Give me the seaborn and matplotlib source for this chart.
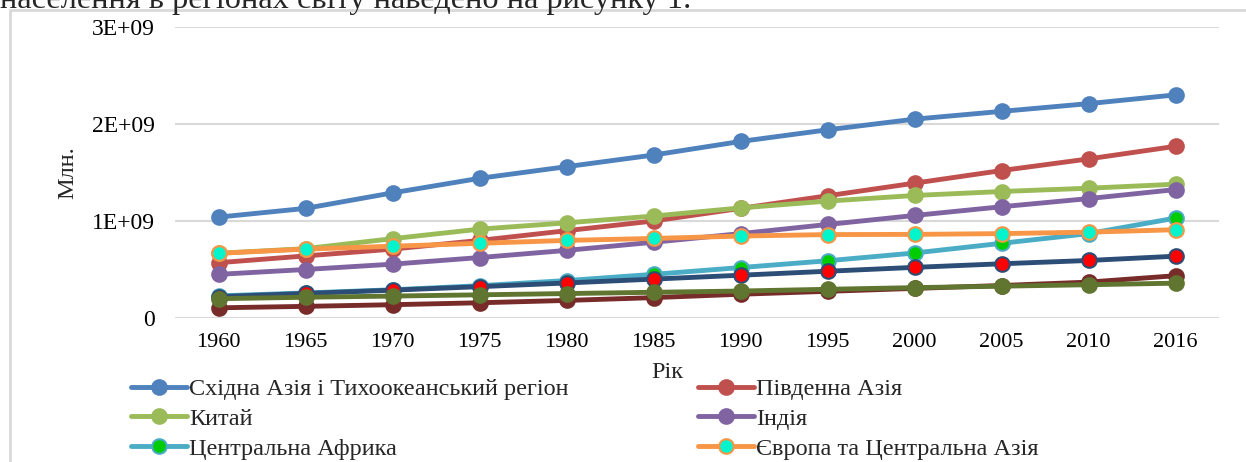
import matplotlib
matplotlib.use("Agg")
import matplotlib.pyplot as plt
import matplotlib.patches as patches
import seaborn as sns
import pandas as pd

years = ["1960", "1965", "1970", "1975", "1980", "1985", "1990", "1995", "2000", "2005", "2010", "2016"]

east_asia = [1.04e9, 1.13e9, 1.29e9, 1.44e9, 1.56e9, 1.68e9, 1.82e9, 1.94e9, 2.05e9, 2.13e9, 2.21e9, 2.30e9]
south_asia = [0.57e9, 0.64e9, 0.71e9, 0.80e9, 0.90e9, 1.00e9, 1.13e9, 1.26e9, 1.39e9, 1.52e9, 1.64e9, 1.77e9]
china = [0.667e9, 0.715e9, 0.818e9, 0.916e9, 0.981e9, 1.051e9, 1.135e9, 1.205e9, 1.263e9, 1.304e9, 1.338e9, 1.379e9]
india = [0.45e9, 0.50e9, 0.555e9, 0.623e9, 0.697e9, 0.781e9, 0.870e9, 0.964e9, 1.057e9, 1.147e9, 1.231e9, 1.324e9]
central_africa = [0.228e9, 0.258e9, 0.291e9, 0.333e9, 0.386e9, 0.45e9, 0.52e9, 0.59e9, 0.67e9, 0.77e9, 0.87e9, 1.03e9]
europe = [0.667e9, 0.71e9, 0.74e9, 0.77e9, 0.80e9, 0.82e9, 0.845e9, 0.86e9, 0.862e9, 0.87e9, 0.885e9, 0.91e9]
latin_america = [0.22e9, 0.253e9, 0.287e9, 0.323e9, 0.361e9, 0.401e9, 0.441e9, 0.482e9, 0.522e9, 0.559e9, 0.593e9, 0.637e9]
mena = [0.105e9, 0.12e9, 0.137e9, 0.157e9, 0.181e9, 0.21e9, 0.245e9, 0.275e9, 0.305e9, 0.335e9, 0.37e9, 0.436e9]
north_america = [0.199e9, 0.214e9, 0.226e9, 0.239e9, 0.252e9, 0.265e9, 0.278e9, 0.296e9, 0.313e9, 0.328e9, 0.343e9, 0.359e9]

# name, values, line colour, marker face, marker edge, show in legend
series = [
    ("Східна Азія і Тихоокеанський регіон", east_asia, "#4F81BD", "#4F81BD", "#4F81BD", True),
    ("Південна Азія", south_asia, "#C0504D", "#C0504D", "#C0504D", True),
    ("Китай", china, "#9BBB59", "#9BBB59", "#9BBB59", True),
    ("Індія", india, "#8064A2", "#8064A2", "#8064A2", True),
    ("Центральна Африка", central_africa, "#4BACC6", "#00CC00", "#4BACC6", True),
    ("Європа та Центральна Азія", europe, "#F79646", "#00F5CC", "#F79646", True),
    ("Латинська Америка", latin_america, "#2C4D75", "#FF0000", "#2C4D75", False),
    ("Близький Схід", mena, "#772C2A", "#772C2A", "#772C2A", False),
    ("Північна Америка", north_america, "#5F7530", "#5F7530", "#5F7530", False),
]

sns.set_style("white")
plt.rcParams["font.family"] = ["Liberation Serif", "DejaVu Serif"]

fig = plt.figure(figsize=(12.46, 4.62), dpi=100)
ax = fig.add_axes([175 / 1246, 1 - 318 / 462, 1044 / 1246, 291 / 462])

# outer chart frame (cut by the page edge, as in the source)
fig.patches.append(patches.Rectangle((10 / 1246, -0.1), 1.2, 1.1 - 10 / 462,
                                     transform=fig.transFigure, fill=False,
                                     edgecolor="#D9D9D9", linewidth=2, zorder=0))
fig.text(0.0, 1 - 8 / 462, "населення в регіонах світу наведено на рисунку 1.",
         fontsize=23.3, va="baseline", ha="left")

for name, vals, color, face, edge, show in series:
    df = pd.DataFrame({"year": years, "value": vals})
    sns.lineplot(data=df, x="year", y="value", ax=ax, sort=False, color=color,
                 linewidth=3.5, marker="o", markersize=10.5, markerfacecolor=face,
                 markeredgecolor=edge, markeredgewidth=1.5,
                 label=name if show else "_nolegend_", legend=False)

ax.set_xlim(-0.5, len(years) - 0.5)
ax.set_ylim(0, 3e9)
ax.set_yticks([0, 1e9, 2e9, 3e9])
ax.set_yticklabels(["0", "1E+09", "2E+09", "3E+09"])
ax.yaxis.grid(True, color="#D9D9D9", linewidth=1.5)
ax.set_axisbelow(True)
for s in ax.spines.values():
    s.set_visible(False)
ax.tick_params(axis="both", length=0, colors="black")
ax.tick_params(axis="y", pad=14.4, labelsize=17)
ax.tick_params(axis="x", pad=11, labelsize=16)

ax.set_xlabel("Рік", fontsize=17.5)
ax.xaxis.label.set_va("center")
ax.xaxis.set_label_coords((667 - 175) / 1044, (318 - 372) / 291)
ax.set_ylabel("Млн.", fontsize=17.5)
ax.yaxis.label.set_va("center")
ax.yaxis.set_label_coords((68 - 175) / 1044, (318 - 173) / 291)

handles, labels = ax.get_legend_handles_labels()
order = [0, 2, 4, 1, 3, 5]
fig.legend([handles[i] for i in order], [labels[i] for i in order],
           loc="upper left", bbox_to_anchor=(131 / 1246, 1 - 378 / 462), ncol=2,
           frameon=False, fontsize=17.5, handlelength=2.3, handletextpad=0.08,
           columnspacing=5.35, labelspacing=0.32, borderaxespad=0, borderpad=0)

fig.savefig("out.png", dpi=100)
